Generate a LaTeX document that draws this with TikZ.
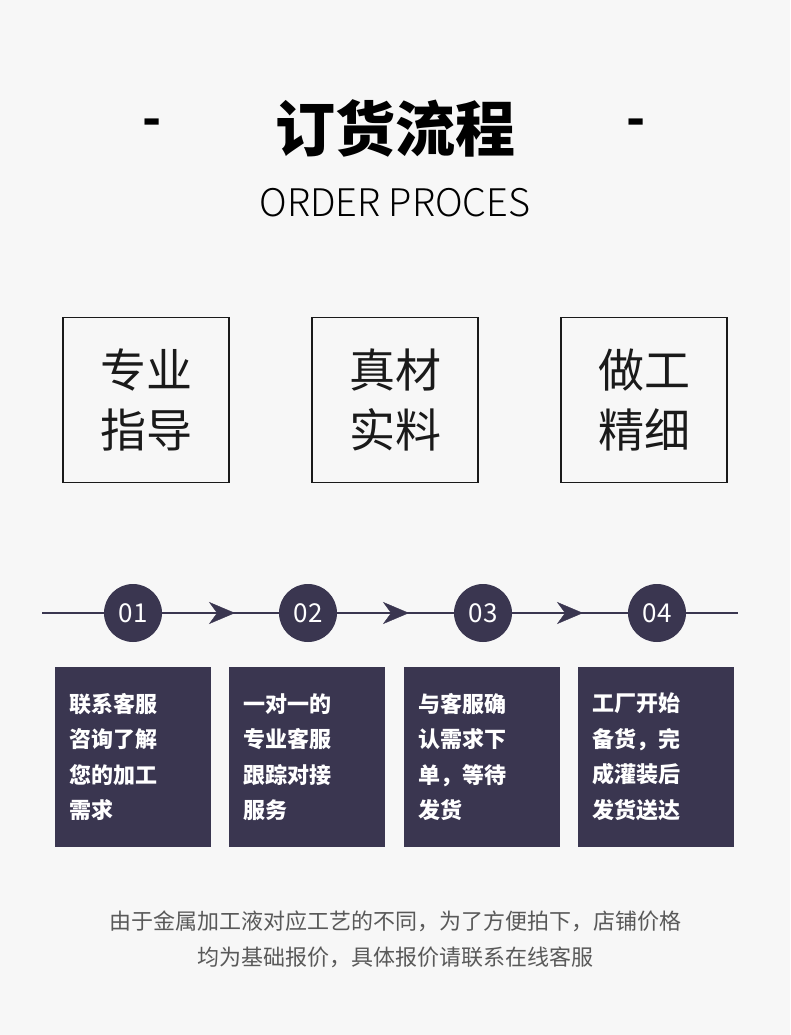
\documentclass[tikz,border=0pt]{standalone}
\usepackage{fontspec}
\setmainfont{Noto Sans CJK SC}
\newfontfamily\cjklight[UprightFont={* Light}]{Noto Sans CJK SC}
\usetikzlibrary{positioning,arrows.meta}
\definecolor{navy}{HTML}{3A3650}
\definecolor{ink}{HTML}{1A1A1A}
\tikzset{
  whitebox/.style={draw=ink,line width=1.5pt,minimum width=166pt,minimum height=165pt,
    font=\fontsize{46}{60}\selectfont,text=ink,align=center},
  stepnum/.style={circle,fill=navy,minimum size=58pt,inner sep=0pt,text=white,
    font=\fontsize{26}{26}\selectfont},
  stepbox/.style={fill=navy,minimum width=156pt,minimum height=180pt,text=white,
    font=\bfseries\fontsize{22}{35.5}\selectfont,align=left,text width=128pt},
}
\begin{document}
\begin{tikzpicture}[x=1pt,y=-1pt]
  \fill[white!97!black] (0,0) rectangle (790,1035);
  \useasboundingbox (0,0) rectangle (790,1035);
  % title
  \node (title) at (395,128) {\bfseries\fontsize{60}{60}\selectfont 订货流程};
  \node (dashl) at (152,128) {\bfseries\fontsize{50}{50}\selectfont -};
  \node (dashr) at (636,128) {\bfseries\fontsize{50}{50}\selectfont -};
  \node (sub) at (395,203) {\cjklight\fontsize{38}{38}\selectfont ORDER PROCES};
  % feature boxes
  \node[whitebox] (f1) at (146,400) {专业\\指导};
  \node[whitebox] (f2) at (395,400) {真材\\实料};
  \node[whitebox] (f3) at (644,400) {做工\\精细};
  % steps
  \coordinate (lstart) at (42,613);
  \coordinate (lend) at (738,613);
  \draw[navy,line width=1.5pt] (lstart) -- (lend);
  \node[stepnum] (n1) at (133,613) {01};
  \node[stepnum] (n2) at (308,613) {02};
  \node[stepnum] (n3) at (483,613) {03};
  \node[stepnum] (n4) at (657,613) {04};
  \foreach \x in {222,396,570}
    \node[navy,inner sep=0pt] at (\x,613) {\tikz\draw[-{Stealth[length=26pt,width=22pt,inset=8pt]},navy] (0,0) -- (26pt,0);};
  \node[stepbox] (s1) at (133,757) {联系客服\\咨询了解\\您的加工\\需求};
  \node[stepbox] (s2) at (307,757) {一对一的\\专业客服\\跟踪对接\\服务};
  \node[stepbox] (s3) at (482,757) {与客服确\\认需求下\\单，等待\\发货};
  \node[stepbox] (s4) at (656,757) {工厂开始\\备货，完\\成灌装后\\发货送达};
  % note
  \node[text=black!65,font=\fontsize{22}{36}\selectfont,align=center] (note) at (395,939)
    {由于金属加工液对应工艺的不同，为了方便拍下，店铺价格\\均为基础报价，具体报价请联系在线客服};
\end{tikzpicture}
\end{document}
